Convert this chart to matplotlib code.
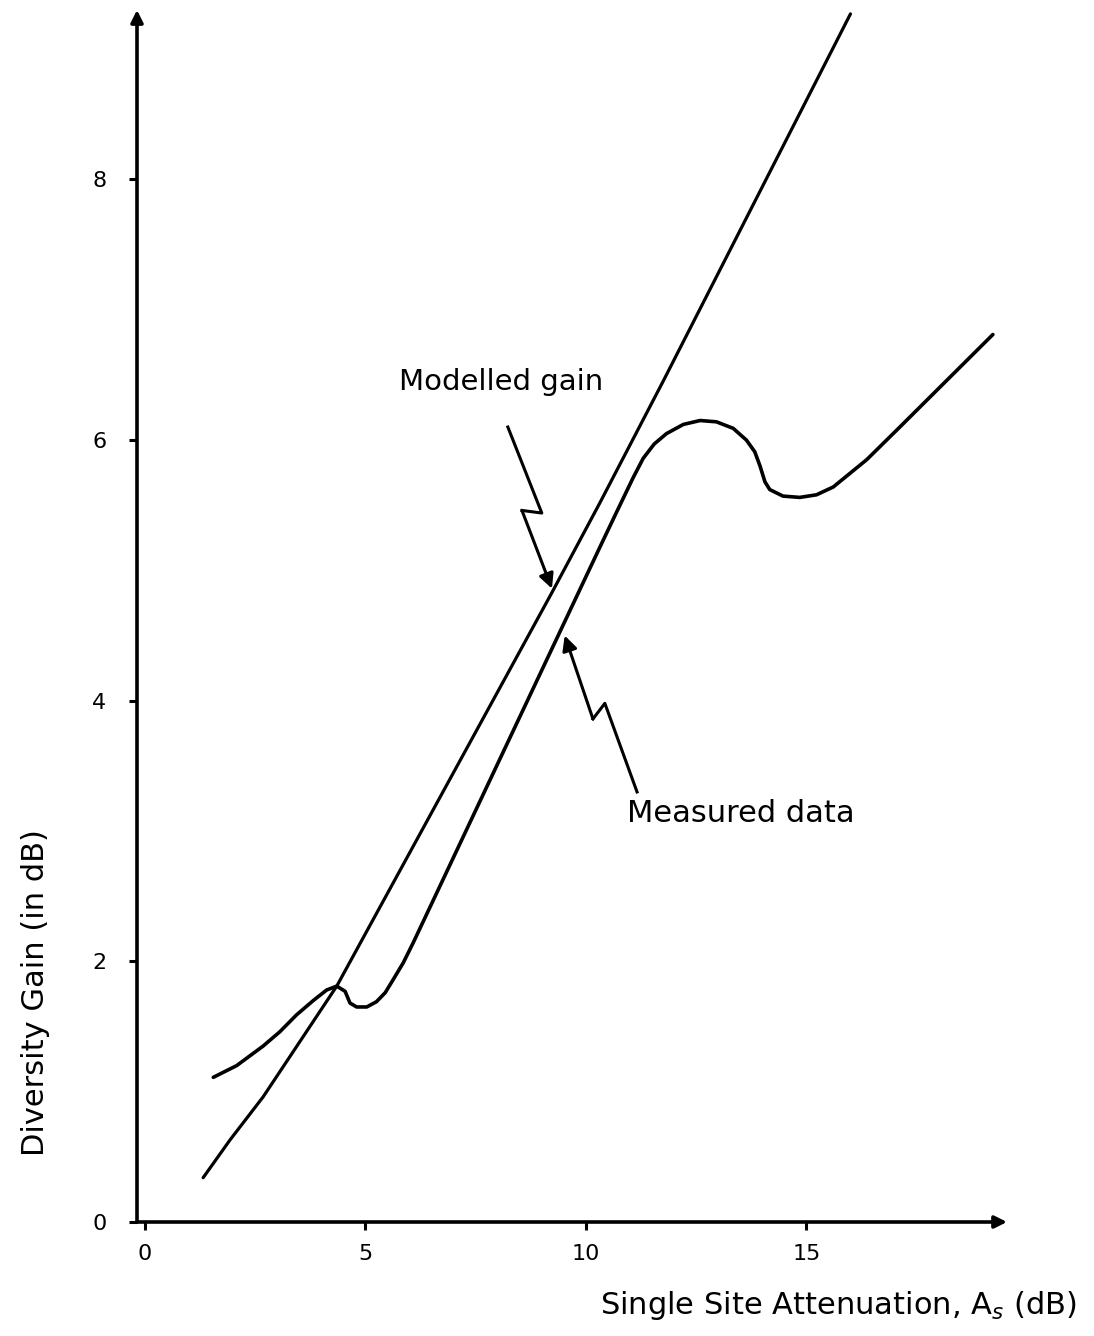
import matplotlib
matplotlib.use("Agg")
import matplotlib.pyplot as plt

# ---- data ----
modelled_x = [1.32, 1.93, 2.68, 4.35, 9.23, 10.32, 11.75, 16.0]
modelled_y = [0.34, 0.63, 0.96, 1.81, 4.83, 5.52, 6.45, 9.27]

measured_x = [1.55, 2.08, 2.68, 3.06, 3.44, 3.82, 4.12, 4.35, 4.54, 4.65, 4.80, 5.03,
              5.25, 5.45, 5.63, 5.86, 6.08, 9.12, 10.32, 10.70, 11.07, 11.30, 11.55,
              11.83, 12.21, 12.59, 12.96, 13.34, 13.64, 13.83, 13.95, 14.06, 14.17,
              14.47, 14.85, 15.23, 15.61, 16.37, 17.12, 19.23]
measured_y = [1.11, 1.20, 1.35, 1.46, 1.59, 1.70, 1.78, 1.81, 1.77, 1.68, 1.65, 1.65,
              1.69, 1.76, 1.86, 1.99, 2.14, 4.32, 5.18, 5.45, 5.71, 5.86, 5.97,
              6.05, 6.12, 6.15, 6.14, 6.09, 6.00, 5.91, 5.80, 5.68, 5.62,
              5.57, 5.56, 5.58, 5.64, 5.85, 6.10, 6.81]

x_ticks = [0, 5, 10, 15]
y_ticks = [0, 2, 4, 6, 8]

# zig-zag annotation pointers (data coords)
model_ptr_x = [8.23, 9.00, 8.55, 9.23]
model_ptr_y = [6.10, 5.44, 5.46, 4.86]
meas_ptr_x = [11.16, 10.43, 10.16, 9.52]
meas_ptr_y = [3.30, 3.98, 3.86, 4.50]

fig = plt.figure(figsize=(10.94, 13.36), dpi=100)
ax = fig.add_axes([137/1094, (1336-1222)/1336, (1007-137)/1094, (1222-10)/1336])
ax.set_xlim(-0.18, 19.55)
ax.set_ylim(0, 9.30)

for s in ax.spines.values():
    s.set_visible(False)

# axes with arrow heads
arrow_kw = dict(arrowstyle='-|>', lw=2.6, color='black', mutation_scale=18,
                shrinkA=0, shrinkB=0)
ax.annotate('', xy=(1, 0), xytext=(0, 0), xycoords='axes fraction', arrowprops=arrow_kw)
ax.annotate('', xy=(0, 1), xytext=(0, 0), xycoords='axes fraction', arrowprops=arrow_kw)

ax.set_xticks(x_ticks)
ax.set_yticks(y_ticks)
ax.set_xticklabels([str(t) for t in x_ticks])
ax.set_yticklabels([str(t) for t in y_ticks])
ax.tick_params(direction='out', length=6, width=2.2, labelsize=16)
ax.tick_params(axis='x', pad=10)
ax.tick_params(axis='y', pad=16)

ax.plot(modelled_x, modelled_y, color='black', lw=2.3, solid_capstyle='round')
ax.plot(measured_x, measured_y, color='black', lw=2.6, solid_capstyle='round',
        solid_joinstyle='round')

# zig-zag pointers
ptr_kw = dict(arrowstyle='-|>', lw=2.2, color='black', mutation_scale=22,
              shrinkA=0, shrinkB=0)
ax.plot(model_ptr_x[:-1], model_ptr_y[:-1], color='black', lw=2.2)
ax.annotate('', xy=(model_ptr_x[-1], model_ptr_y[-1]),
            xytext=(model_ptr_x[-2], model_ptr_y[-2]), arrowprops=ptr_kw)
ax.plot(meas_ptr_x[:-1], meas_ptr_y[:-1], color='black', lw=2.2)
ax.annotate('', xy=(meas_ptr_x[-1], meas_ptr_y[-1]),
            xytext=(meas_ptr_x[-2], meas_ptr_y[-2]), arrowprops=ptr_kw)

fig.text(501/1094, 1-382/1336, "Modelled gain", ha='center', va='center', fontsize=21)
fig.text(741/1094, 1-814/1336, "Measured data", ha='center', va='center', fontsize=22)

fig.text(36/1094, 1-993/1336, "Diversity Gain (in dB)", rotation=90,
         ha='center', va='center', fontsize=22)
fig.text(838/1094, 1-1305/1336, r"Single Site Attenuation, A$_s$ (dB)",
         ha='center', va='center', fontsize=22)

fig.savefig("out.png", dpi=100, facecolor='white')
